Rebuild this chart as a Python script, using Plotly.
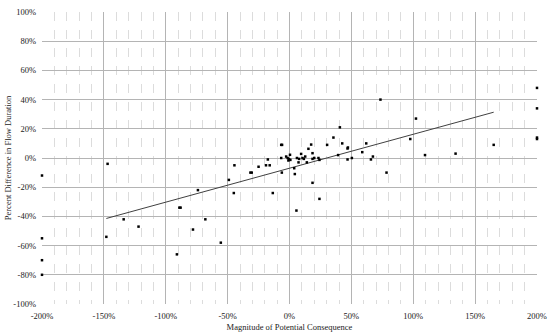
import plotly.graph_objects as go

# Data (percent)
x_vals = [-200, -200, -200, -200,
          -147, -148, -134, -122,
          -89, -88, -74, -68, -78, -55.5, -91, -49,
          -44.5, -45, -31.6, -30.5, -25, -19, -16, -17.5, -13.5,
          -6.7, -6, -6.7, -6.2, -2.7, -1.5, -0.4, 0.4, 0.7, -0.9,
          3.8, 4.3, 6, 7.3, 7.8, 9.4, 10.5, 11.6, 12.7, 14, 15.3, 17.5, 18.6, 18.6, 18.6,
          5.6, 24.2, 20, 23.4, 24.2,
          30.4, 35.5, 40.7, 42.6, 39.3, 46.9, 47.2, 46.9, 50.4, 58.8, 62, 65.8, 67.4, 73.5, 78.4,
          97.6, 102.2, 109.5, 134.2, 165,
          200, 200, 200, 200]
y_vals = [-12, -55, -70, -80,
          -4, -54, -42, -47,
          -34, -34, -22, -42, -49, -58, -66, -15,
          -5, -24, -10, -10, -6, -5, -5, -1, -24,
          9, 9, 0, -10, 1, 0, -0.8, 2.2, -1.3, -1.7,
          -7, -11, 0, -3, -0.6, 2.8, 0, -0.6, 1, -3, 6.3, 9.2, 3.3, -0.6, -17,
          -36, -28, 0, 0, -1.3,
          9, 14, 21, 10, 2, 6.5, 7.2, -1, 0, 4, 10, -1, 1, 40, -10,
          13, 27, 2, 3, 9,
          48, 34, 14, 13]

# Trendline
trend_slope = 0.2325
trend_intercept = -7.0
trend_x = [-148, 165]
trend_y = [trend_slope * v + trend_intercept for v in trend_x]

x_ticks = [-200, -150, -100, -50, 0, 50, 100, 150, 200]
y_ticks = [-100, -80, -60, -40, -20, 0, 20, 40, 60, 80, 100]

fig = go.Figure()
fig.add_trace(go.Scatter(x=trend_x, y=trend_y, mode="lines",
                         line=dict(color="#404040", width=1), showlegend=False,
                         hoverinfo="skip"))
fig.add_trace(go.Scatter(x=x_vals, y=y_vals, mode="markers",
                         marker=dict(symbol="square", size=2.5, color="black"),
                         cliponaxis=False, showlegend=False))

font = dict(family="Liberation Serif, Times New Roman, serif", size=8.5, color="#222")

fig.update_layout(
    width=550, height=335,
    margin=dict(l=42, r=13, t=12, b=31),
    paper_bgcolor="white", plot_bgcolor="white",
    font=font,
)
fig.update_xaxes(
    range=[-200, 200], tickvals=x_ticks, ticktext=[f"{v}%" for v in x_ticks],
    showgrid=True, gridcolor="#b4b4b4", gridwidth=1, zeroline=False,
    minor=dict(dtick=10, tick0=0, showgrid=True, gridcolor="#dcdcdc", griddash="dash", gridwidth=1),
    ticks="", showline=False, automargin=False, ticklabelstandoff=5,
    title=dict(text="Magnitude of Potential Consequence", standoff=4, font=font),
    tickfont=font,
)
fig.update_yaxes(
    range=[-100, 100], tickvals=y_ticks, ticktext=[f"{v}%" for v in y_ticks],
    showgrid=True, gridcolor="#b4b4b4", gridwidth=1, zeroline=False,
    ticks="", showline=False, automargin=False, ticklabelstandoff=5,
    title=dict(text="Percent Difference in Flow Duration", standoff=0, font=font),
    tickfont=font,
)

fig.write_html("out.html", config={"displayModeBar": False},
               post_script="document.body.style.margin='0';document.body.style.padding='0';")
